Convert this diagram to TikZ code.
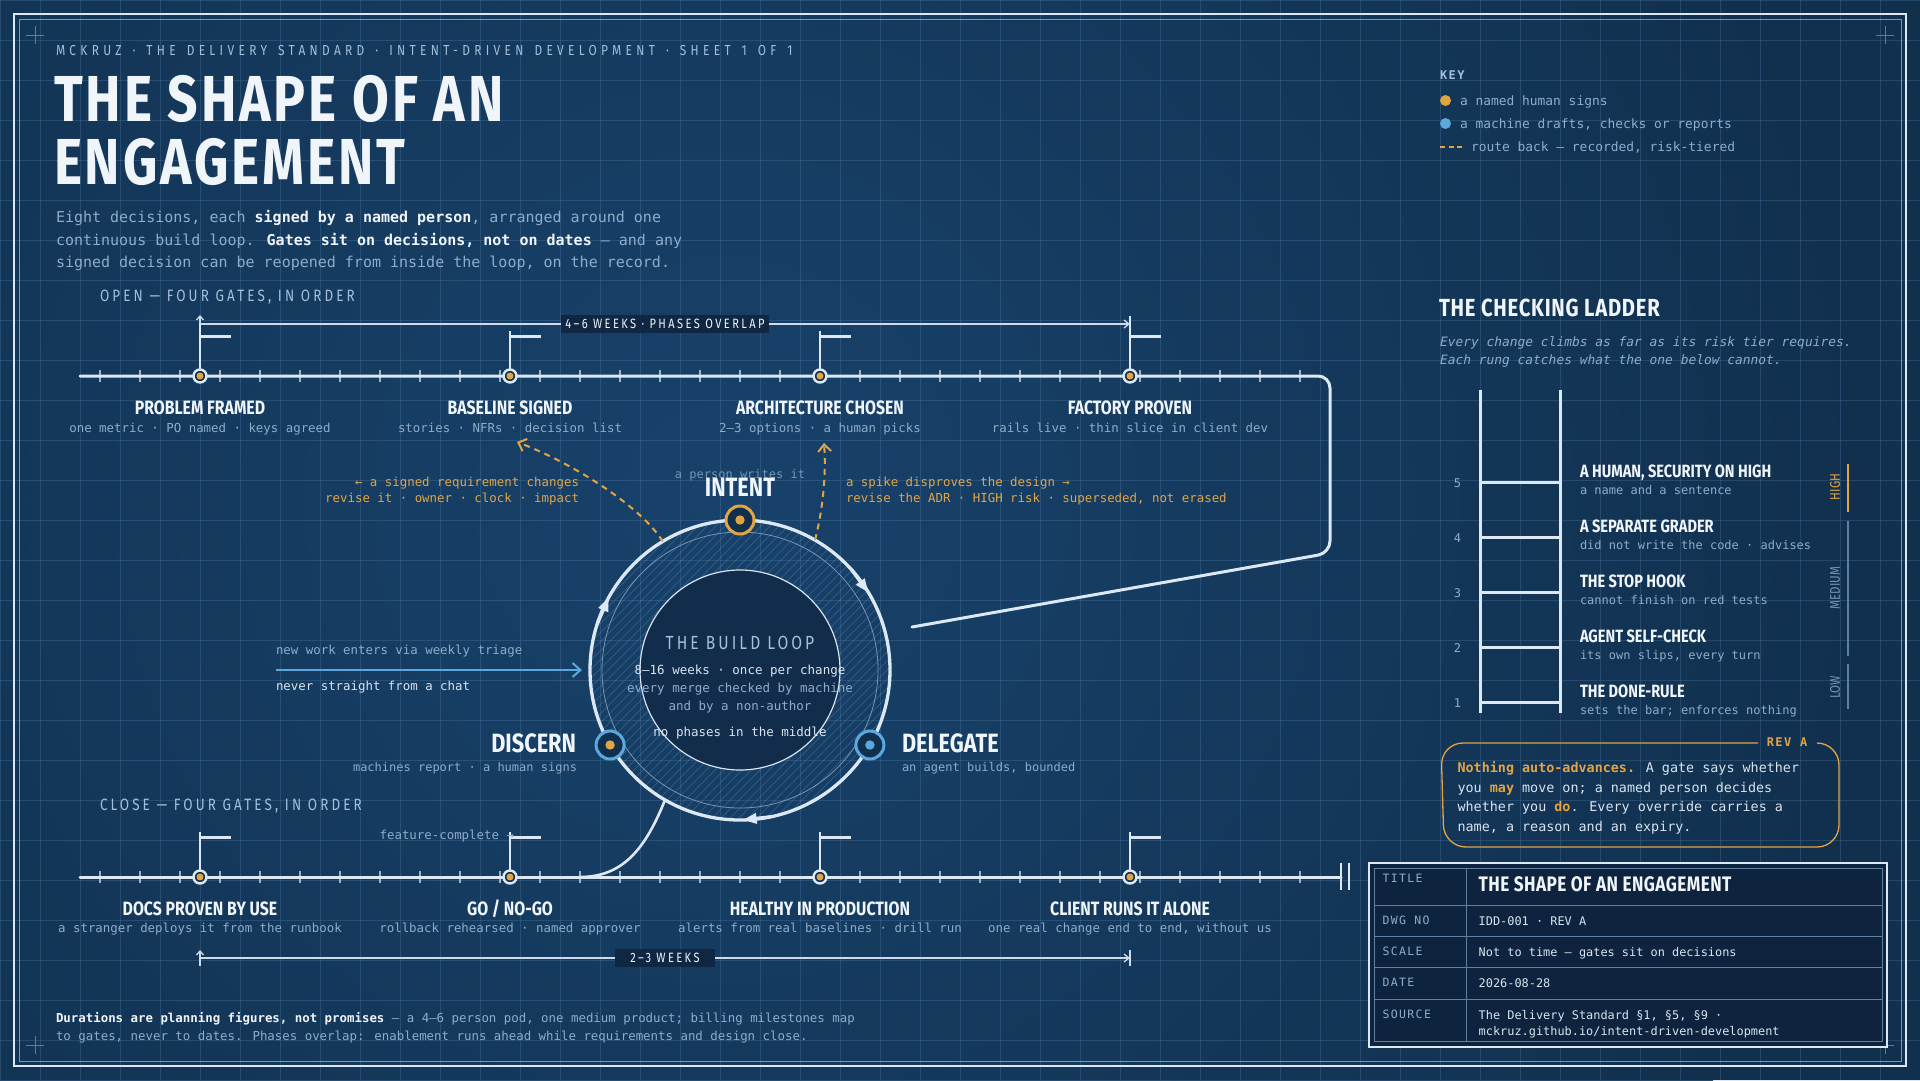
\documentclass[tikz,border=0pt]{standalone}
\usepackage{fontspec}
\usetikzlibrary{arrows.meta,calc}
\newfontfamily\condf{Fira Sans}[FakeStretch=0.82]
\newfontfamily\monof{DejaVu Sans Mono}
\newcommand\mf[1]{\monof\fontsize{#1}{#1}\selectfont}
\newcommand\cf[1]{\condf\fontsize{#1}{#1}\selectfont}
\newcommand\ls[1]{\addfontfeature{LetterSpace=#1}}
\newcommand\wsp{\hspace{11pt}}
\definecolor{cBgA}{HTML}{11304E}
\definecolor{cBgB}{HTML}{18426B}
\definecolor{cGrid}{HTML}{6F9CC8}
\definecolor{cInk}{HTML}{F0F5FA}
\definecolor{cInkB}{HTML}{D8E4F0}
\definecolor{cLine}{HTML}{DCE8F4}
\definecolor{cSoft}{HTML}{A3BFDB}
\definecolor{cDim}{HTML}{8EADCB}
\definecolor{cDimmer}{HTML}{7595B6}
\definecolor{cOrg}{HTML}{E3A444}
\definecolor{cBlu}{HTML}{5BA8DE}
\definecolor{cDeep}{HTML}{0F2743}
\definecolor{cDisk}{HTML}{122D4B}
\definecolor{cTB}{HTML}{0E243E}
\definecolor{cTier}{HTML}{5F80A3}
\tikzset{
  every node/.style={inner sep=0pt, outer sep=0pt},
  gridl/.style={draw=cGrid, opacity=0.22, line width=0.8},
  tl/.style={draw=cLine, line width=3, line cap=round, line join=round},
  tickl/.style={draw=cLine, line width=1.2, opacity=0.7},
  gate/.style={circle, draw=cLine, line width=2.4, fill=cBgA, minimum size=13,
     path picture={\fill[cOrg] (path picture bounding box.center) circle (3.5pt);}},
  ring/.style={circle, draw=#1, line width=3, fill=cBgA, minimum size=28},
  dot/.style={path picture={\fill[#1] (path picture bounding box.center) circle (4.7pt);}},
  pole/.style={draw=cLine, line width=1.6},
  flag/.style={draw=cLine, line width=2.6},
  gtitle/.style={font=\cf{19.3}\bfseries, text=cInk, anchor=mid},
  gsub/.style={font=\mf{12.4}, text=cDim, anchor=mid},
  dimc/.style={draw=cLine!80!cDim, line width=1.3},
  dimlabel/.style={fill=cDeep, inner xsep=4, inner ysep=4, font=\cf{13.5}\ls{18}, text=cInk},
  route/.style={draw=cOrg, line width=2, dash pattern=on 6pt off 5pt, -{Straight Barb[length=7pt,width=13pt]}},
  rtxt/.style={anchor=mid, font=\mf{12.4}, text=cOrg},
  para/.style={anchor=mid west, font=\mf{15}, text=cDim},
  sect/.style={anchor=mid west, font=\cf{16.4}\ls{19}, text=cSoft},
  big/.style={font=\cf{26.5}\bfseries, text=cInk},
  small/.style={font=\mf{12}, text=cDim},
  keyt/.style={anchor=mid west, font=\mf{12.9}, text=cDim},
  rail/.style={draw=cLine, line width=3},
  rt/.style={anchor=mid west, font=\cf{17.8}\bfseries, text=cInk},
  rs/.style={anchor=mid west, font=\mf{12}, text=cDim},
  tier/.style={rotate=90, font=\cf{14}, text=cDimmer},
  co/.style={anchor=mid west, font=\mf{13.4}, text=cInkB},
  tbl/.style={anchor=mid west, font=\mf{11.5}\ls{12}, text=cDim},
  tbv/.style={anchor=mid west, font=\mf{11.9}, text=cInkB},
  cross/.style={draw=cDim, opacity=0.6, line width=0.8},
}
\begin{document}
\begin{tikzpicture}[x=1pt,y=-1pt]
\useasboundingbox (0,0) rectangle (1920,1080);
% background
\fill[cBgA] (0,0) rectangle (1920,1080);
\begin{scope}
\clip (0,0) rectangle (1920,1080);
\shade[inner color=cBgB, outer color=cBgA] (720,500) circle (1150);
\foreach \x in {0,40,...,1920} \draw[gridl] (\x,0) -- (\x,1080);
\foreach \y in {0,40,...,1080} \draw[gridl] (0,\y) -- (1920,\y);
\end{scope}
% frame
\draw[cLine, line width=2.5] (14,14) rectangle (1906,1066);
\draw[cLine, opacity=0.55, line width=0.8] (19,19) rectangle (1901,1061);
\foreach \p in {(35,35),(1885,35),(35,1045),(1885,1045)}
  \draw[cross] \p ++(-9,0) -- ++(18,0) \p ++(0,-9) -- ++(0,18);

% header and title
\node[anchor=mid west, font=\cf{14.5}\ls{30}, text=cSoft] (hdr) at (56,53.5) {MCKRUZ\wsp ·\wsp THE\wsp DELIVERY\wsp STANDARD\wsp ·\wsp INTENT-DRIVEN\wsp DEVELOPMENT\wsp ·\wsp SHEET\wsp 1\wsp OF\wsp 1};
\node[anchor=base west, font=\cf{65}\bfseries\ls{4.5}, text=cInk] (ttlA) at (54,121) {THE SHAPE OF AN};
\node[anchor=base west, font=\cf{65}\bfseries\ls{4.5}, text=cInk] (ttlB) at (54,184) {ENGAGEMENT};
\node[para] (pA) at (56,220.5) {Eight decisions, each \textcolor{cInk}{\bfseries signed by a named person}, arranged around one};
\node[para] (pB) at (56,243.5) {continuous build loop. \textcolor{cInk}{\bfseries Gates sit on decisions, not on dates} — and any};
\node[para] (pC) at (56,265.5) {signed decision can be reopened from inside the loop, on the record.};
\node[sect] (openL) at (100,299.5) {OPEN — FOUR GATES, IN ORDER};
\node[sect] (closeL) at (100,808.5) {CLOSE — FOUR GATES, IN ORDER};

% timelines
\foreach \x in {100,140,...,1300} {
  \draw[tickl] (\x,370) -- (\x,382);
  \draw[tickl] (\x,871) -- (\x,883);
}
\coordinate (tlA) at (80,376);
\coordinate (rb) at (912,627);
\draw[tl, rounded corners=12] (tlA) -- (1330,376) -- (1330,553) -- (rb);
\coordinate (tlB) at (80,877);
\coordinate (tlBend) at (1341,877);
\draw[tl] (tlB) -- (tlBend);
\draw[cLine, line width=2.5] (1341,863) -- (1341,890) (1349,863) -- (1349,890);

\node[gate] (g1) at (200,376) {};
\node[gate] (g2) at (510,376) {};
\node[gate] (g3) at (820,376) {};
\node[gate] (g4) at (1130,376) {};
\node[gate] (g5) at (200,877) {};
\node[gate] (g6) at (510,877) {};
\node[gate] (g7) at (820,877) {};
\node[gate] (g8) at (1130,877) {};
\foreach \g/\h in {g1/60, g2/45, g3/45, g4/60, g5/45, g6/45, g7/45, g8/45} {
  \draw[pole] (\g.north) -- ($(\g)+(0,-\h)$);
  \draw[flag] ($(\g)+(0,-39.5)$) -- ++(31,0);
}

% dimensions
\coordinate (d1) at ($(g1)+(0,-52)$);
\coordinate (d2) at ($(g4)+(0,-52)$);
\draw[dimc, -{Straight Barb[length=5pt,width=8pt]}] (d1) -- (d2);
\draw[dimc, -{Straight Barb[length=4pt,width=7pt]}] ($(d1)+(0,-1)$) -- ($(d1)+(0,-9)$);
\node[dimlabel] (dlA) at ($(d1)!0.5!(d2)$) {4–6 WEEKS · PHASES OVERLAP};
\coordinate (d3) at ($(g5)+(0,81)$);
\coordinate (d4) at ($(g8)+(0,81)$);
\draw[dimc, -{Straight Barb[length=5pt,width=8pt]}] (d3) -- (d4);
\draw[dimc] ($(d4)+(0,-8)$) -- ($(d4)+(0,8)$);
\draw[dimc, -{Straight Barb[length=4pt,width=7pt]}] ($(d3)+(0,8)$) -- ($(d3)+(0,-8)$);
\node[dimlabel, inner xsep=15] (dlB) at ($(d3)!0.5!(d4)$) {2–3 WEEKS};

% gate labels
\node[gtitle] (g1t) at ($(g1)+(0,36)$) {PROBLEM FRAMED};
\node[gsub] (g1s) at ($(g1)+(0,54.5)$) {one metric · PO named · keys agreed};
\node[gtitle] (g2t) at ($(g2)+(0,36)$) {BASELINE SIGNED};
\node[gsub] (g2s) at ($(g2)+(0,54.5)$) {stories · NFRs · decision list};
\node[gtitle] (g3t) at ($(g3)+(0,36)$) {ARCHITECTURE CHOSEN};
\node[gsub] (g3s) at ($(g3)+(0,54.5)$) {2–3 options · a human picks};
\node[gtitle] (g4t) at ($(g4)+(0,36)$) {FACTORY PROVEN};
\node[gsub] (g4s) at ($(g4)+(0,54.5)$) {rails live · thin slice in client dev};
\node[gtitle] (g5t) at ($(g5)+(0,36)$) {DOCS PROVEN BY USE};
\node[gsub] (g5s) at ($(g5)+(0,53.5)$) {a stranger deploys it from the runbook};
\node[gtitle] (g6t) at ($(g6)+(0,36)$) {GO / NO-GO};
\node[gsub] (g6s) at ($(g6)+(0,53.5)$) {rollback rehearsed · named approver};
\node[gtitle] (g7t) at ($(g7)+(0,36)$) {HEALTHY IN PRODUCTION};
\node[gsub] (g7s) at ($(g7)+(0,53.5)$) {alerts from real baselines · drill run};
\node[gtitle] (g8t) at ($(g8)+(0,36)$) {CLIENT RUNS IT ALONE};
\node[gsub] (g8s) at ($(g8)+(0,53.5)$) {one real change end to end, without us};
\node[gsub, anchor=mid east] (fc) at (514,837) {feature-complete →};

% build loop
\coordinate (c) at (740,670);
\begin{scope}
\clip (c) circle (149);
\foreach \i in {-330,-321,...,330} \draw[cGrid, opacity=0.33, line width=0.7] ($(c)+(\i-160,160)$) -- ++(320,-320);
\end{scope}
\draw[cDimmer, line width=0.8] (c) circle (138);
\fill[cDisk] (c) circle (100);
\draw[cInkB, line width=1.2] (c) circle (100);
\node[circle, draw=cLine, line width=3.3, minimum size=300] (loop) at (c) {};
\draw[cLine, line width=3.3, -{Triangle[length=14pt,width=10pt]}] (loop.162) -- (loop.151.6);
\draw[cLine, line width=3.3, -{Triangle[length=14pt,width=10pt]}] (loop.42) -- (loop.31.4);
\draw[cLine, line width=3.3, -{Triangle[length=14pt,width=10pt]}] (loop.282) -- (loop.271);

% connectors
\coordinate (rA) at (517,442);
\coordinate (rB) at (824,443);
\draw[route] (loop.121) .. controls (640,505) and (570,462) .. (rA);
\draw[route] (loop.60) .. controls (824,505) and (826,470) .. (rB);
\coordinate (cj) at (580,877);
\draw[tl, line width=2.6] (loop.240) .. controls (645,850) and (622,877) .. (cj);
\coordinate (entry) at (276,670);
\draw[draw=cBlu, line width=2, -{Straight Barb[length=8pt,width=14pt]}] (entry) -- ($(loop.west)+(-8,0)$);

\node[ring=cOrg, dot=cOrg] (intent) at (loop.90) {};
\node[ring=cBlu, dot=cOrg] (discern) at (loop.210) {};
\node[ring=cBlu, dot=cBlu] (delegate) at (loop.330) {};

\node[small, text=cDimmer] (pw) at (740,475) {a person writes it};
\node[big] (intentL) at (740,487) {INTENT};
\node[big, anchor=mid east] (discL) at (576,750) {DISCERN};
\node[small, anchor=mid east] (discS) at (577,769.5) {machines report · a human signs};
\node[big, anchor=mid west] (delL) at (902,750) {DELEGATE};
\node[small, anchor=mid west] (delS) at (902,769.5) {an agent builds, bounded};

\node[font=\cf{19}\ls{16}, text=cSoft] (blT) at (740,643) {THE BUILD LOOP};
\node[font=\mf{12.5}, text=cInkB] (blA) at (740,671) {8–16 weeks · once per change};
\node[font=\mf{12.5}, text=cDim] (blB) at (740,689) {every merge checked by machine};
\node[font=\mf{12.5}, text=cDim] (blC) at (740,707) {and by a non-author};
\node[font=\mf{12.5}, text=cInkB] (blD) at (740,733) {no phases in the middle};

\node[rtxt, anchor=mid east] (rAa) at (579,484.5) {← a signed requirement changes};
\node[rtxt, anchor=mid east] (rAb) at (579,500.5) {revise it · owner · clock · impact};
\node[rtxt, anchor=mid west] (rBa) at (846,484.5) {a spike disproves the design →};
\node[rtxt, anchor=mid west] (rBb) at (846,500.5) {revise the ADR · HIGH risk · superseded, not erased};

\node[gsub, anchor=mid west] (enA) at (276,652.5) {new work enters via weekly triage};
\node[gsub, anchor=mid west, text=cInkB] (enB) at (276,688.5) {never straight from a chat};

% bottom note
\node[anchor=mid west, font=\mf{12.4}, text=cDim] (nA) at (56,1020.2) {\textcolor{cInk}{\bfseries Durations are planning figures, not promises} — a 4–6 person pod, one medium product; billing milestones map};
\node[anchor=mid west, font=\mf{12.4}, text=cDim] (nB) at (56,1038.5) {to gates, never to dates. Phases overlap: enablement runs ahead while requirements and design close.};

% key
\node[anchor=mid west, font=\mf{12}\bfseries\ls{12}, text=cSoft] (keyT) at (1440,77.5) {KEY};
\fill[cOrg] (1445.5,100.5) circle (5.5);
\node[keyt] (kA) at (1460,103) {a named human signs};
\fill[cBlu] (1445.5,123.5) circle (5.5);
\node[keyt] (kB) at (1460,126) {a machine drafts, checks or reports};
\draw[cOrg, line width=2, dash pattern=on 5pt off 3.5pt] (1440,146.5) -- (1462,146.5);
\node[keyt] (kC) at (1471,149) {route back — recorded, risk-tiered};

% ladder
\node[anchor=mid west, font=\cf{24.7}\bfseries\ls{3}, text=cInk] (ladT) at (1439,314) {THE CHECKING LADDER};
\node[anchor=mid west, font=\mf{12.9}\itshape, text=cDim] (ladA) at (1440,344.2) {Every change climbs as far as its risk tier requires.};
\node[anchor=mid west, font=\mf{12.9}\itshape, text=cDim] (ladB) at (1440,362.8) {Each rung catches what the one below cannot.};
\draw[rail] (1480,390) -- (1480,713);
\draw[rail] (1560,390) -- (1560,713);
\foreach \y/\n in {482/5,537/4,592/3,647/2,702/1} {
  \draw[rail] (1480,\y) -- (1560,\y);
  \node[small] (num\n) at (1457.5,\y+1.5) {\n};
}
\node[rt] (r5t) at (1580,475.5) {A HUMAN, SECURITY ON HIGH};
\node[rs] (r5s) at (1580,492.5) {a name and a sentence};
\node[rt] (r4t) at (1580,530.5) {A SEPARATE GRADER};
\node[rs] (r4s) at (1580,547.5) {did not write the code · advises};
\node[rt] (r3t) at (1580,585.5) {THE STOP HOOK};
\node[rs] (r3s) at (1580,602.5) {cannot finish on red tests};
\node[rt] (r2t) at (1580,640.5) {AGENT SELF-CHECK};
\node[rs] (r2s) at (1580,657.5) {its own slips, every turn};
\node[rt] (r1t) at (1580,695.5) {THE DONE-RULE};
\node[rs] (r1s) at (1580,712.5) {sets the bar; enforces nothing};
\draw[cOrg, line width=1.5] (1848,464) -- (1848,512);
\draw[cTier, line width=1.5] (1848,521) -- (1848,656);
\draw[cTier, line width=1.5] (1848,664) -- (1848,709);
\node[tier, text=cOrg] (tH) at (1835,487) {HIGH};
\node[tier] (tM) at (1835,588) {MEDIUM};
\node[tier] (tL) at (1835,687) {LOW};

% callout
\draw[cOrg, line width=1.3, rounded corners=22] (1758,743) -- (1441,743) -- (1444,847) -- (1839,847) -- (1839,743) -- (1817,743);
\node[font=\mf{12}\bfseries\ls{12}, text=cOrg] (rev) at (1787,742) {REV A};
\node[co] (cA) at (1457.6,770.2) {\textcolor{cOrg}{\bfseries Nothing auto-advances.} A gate says whether};
\node[co] (cB) at (1457.6,790.2) {you \textcolor{cOrg}{\bfseries may} move on; a named person decides};
\node[co] (cC) at (1457.6,809.2) {whether you \textcolor{cOrg}{\bfseries do}. Every override carries a};
\node[co] (cD) at (1457.6,829.2) {name, a reason and an expiry.};

% title block
\draw[cLine, line width=2.5, fill=cTB] (1369,863) rectangle (1887,1047);
\draw[cTier, line width=0.8] (1374.5,868.5) rectangle (1882,1041.5);
\foreach \y in {905.7,936.7,967.7,999.3} \draw[cTier, line width=0.8] (1374.5,\y) -- (1882,\y);
\draw[cTier, line width=0.8] (1466.5,868.5) -- (1466.5,1041.5);
\node[tbl] (lA) at (1382.5,880.5) {TITLE};
\node[tbl] (lB) at (1382.5,922.2) {DWG NO};
\node[tbl] (lC) at (1382.5,953.2) {SCALE};
\node[tbl] (lD) at (1382.5,984.2) {DATE};
\node[tbl] (lE) at (1382.5,1016.2) {SOURCE};
\node[anchor=mid west, font=\cf{21}\bfseries\ls{2}, text=cInk] (vA) at (1478.7,889) {THE SHAPE OF AN ENGAGEMENT};
\node[tbv] (vB) at (1478.7,923.2) {IDD-001 · REV A};
\node[tbv] (vC) at (1478.7,954.2) {Not to time — gates sit on decisions};
\node[tbv] (vD) at (1478.7,985.2) {2026-08-28};
\node[tbv] (vE) at (1478.7,1017.2) {The Delivery Standard §1, §5, §9 ·};
\node[tbv] (vF) at (1478.7,1033.5) {mckruz.github.io/intent-driven-development};
\end{tikzpicture}
\end{document}
